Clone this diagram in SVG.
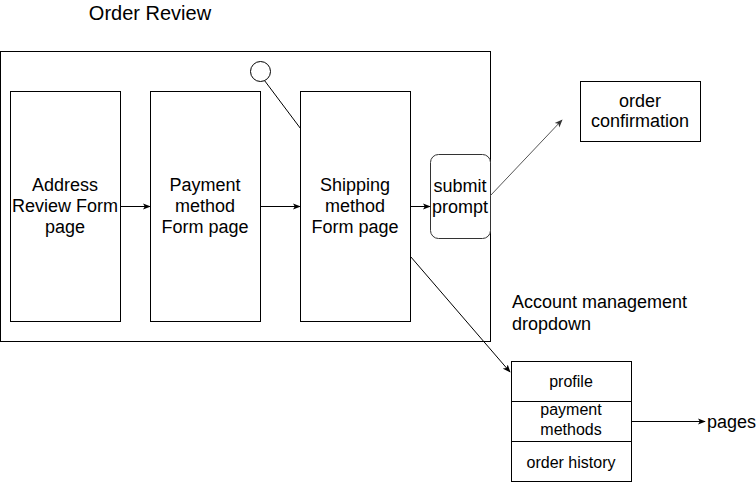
<svg xmlns="http://www.w3.org/2000/svg" width="756" height="482" viewBox="0 0 756 482">
<defs>
<style>
.box{fill:#fff;stroke:#000;stroke-width:1}
.t{font-family:"Liberation Sans",Arial,sans-serif;font-size:18px;fill:#000;text-anchor:middle}
.s{font-family:"Liberation Sans",Arial,sans-serif;font-size:16px;fill:#000;text-anchor:middle}
.l{font-family:"Liberation Sans",Arial,sans-serif;font-size:18px;fill:#000}
.c{fill:none;stroke:#000;stroke-width:1}
.g{fill:none;stroke:#555;stroke-width:1}
</style>
<marker id="a" viewBox="0 0 10 10" refX="9" refY="5" markerWidth="8" markerHeight="8" orient="auto" markerUnits="userSpaceOnUse"><path d="M0,1 L10,5 L0,9 L2.5,5 Z" fill="#000"/></marker>
<marker id="ag" viewBox="0 0 10 10" refX="9" refY="5" markerWidth="8" markerHeight="8" orient="auto" markerUnits="userSpaceOnUse"><path d="M0,1 L10,5 L0,9 L2.5,5 Z" fill="#333"/></marker>
</defs>
<rect width="756" height="482" fill="#fff"/>
<g id="order-review">
<rect class="box" x="0.5" y="51.5" width="490" height="290"/>
<text class="t" x="150" y="20" style="font-size:20px">Order Review</text>
</g>
<g id="address">
<rect class="box" x="10.5" y="91.5" width="110" height="230"/>
<text class="t" x="65" y="191">Address</text>
<text class="t" x="65" y="212">Review Form</text>
<text class="t" x="65" y="233">page</text>
</g>
<g id="payment">
<rect class="box" x="150.5" y="91.5" width="110" height="230"/>
<text class="t" x="205" y="191">Payment</text>
<text class="t" x="205" y="212">method</text>
<text class="t" x="205" y="233">Form page</text>
</g>
<g id="shipping">
<rect class="box" x="300.5" y="91.5" width="110" height="230"/>
<text class="t" x="355" y="191">Shipping</text>
<text class="t" x="355" y="212">method</text>
<text class="t" x="355" y="233">Form page</text>
</g>
<g id="submit">
<rect x="430.5" y="154.5" width="60" height="84" rx="8" fill="#fff" stroke="#333"/>
<text class="t" x="460" y="192">submit</text>
<text class="t" x="460" y="213">prompt</text>
</g>
<g id="circle">
<circle cx="260.5" cy="71.5" r="10" class="box"/>
</g>
<g id="confirmation">
<rect class="box" x="580.5" y="81.5" width="120" height="60"/>
<text class="t" x="640" y="107">order</text>
<text class="t" x="640" y="127">confirmation</text>
</g>
<g id="account-label">
<text class="l" x="512" y="308">Account management</text>
<text class="l" x="512" y="330">dropdown</text>
</g>
<g id="dropdown">
<rect class="box" x="511.5" y="361.5" width="120" height="40"/>
<rect class="box" x="511.5" y="401.5" width="120" height="40"/>
<rect class="box" x="511.5" y="441.5" width="120" height="40"/>
<text class="s" x="571" y="387">profile</text>
<text class="s" x="571" y="415">payment</text>
<text class="s" x="571" y="435">methods</text>
<text class="s" x="571" y="468">order history</text>
</g>
<g id="pages">
<text class="l" x="707" y="428">pages</text>
</g>
<g id="connectors">
<line class="c" x1="120.5" y1="206.5" x2="150" y2="206.5" marker-end="url(#a)"/>
<line class="c" x1="260.5" y1="206.5" x2="300" y2="206.5" marker-end="url(#a)"/>
<line class="c" x1="410.5" y1="206.5" x2="430" y2="206.5" marker-end="url(#a)"/>
<line class="c" x1="264.5" y1="80.5" x2="300.5" y2="128.5"/>
<line class="g" x1="490.5" y1="195.5" x2="562" y2="120" marker-end="url(#ag)"/>
<line class="c" x1="410.5" y1="256.5" x2="510" y2="372" marker-end="url(#a)"/>
<line class="c" x1="631.5" y1="421.5" x2="705" y2="421.5" marker-end="url(#a)"/>
</g>
</svg>
